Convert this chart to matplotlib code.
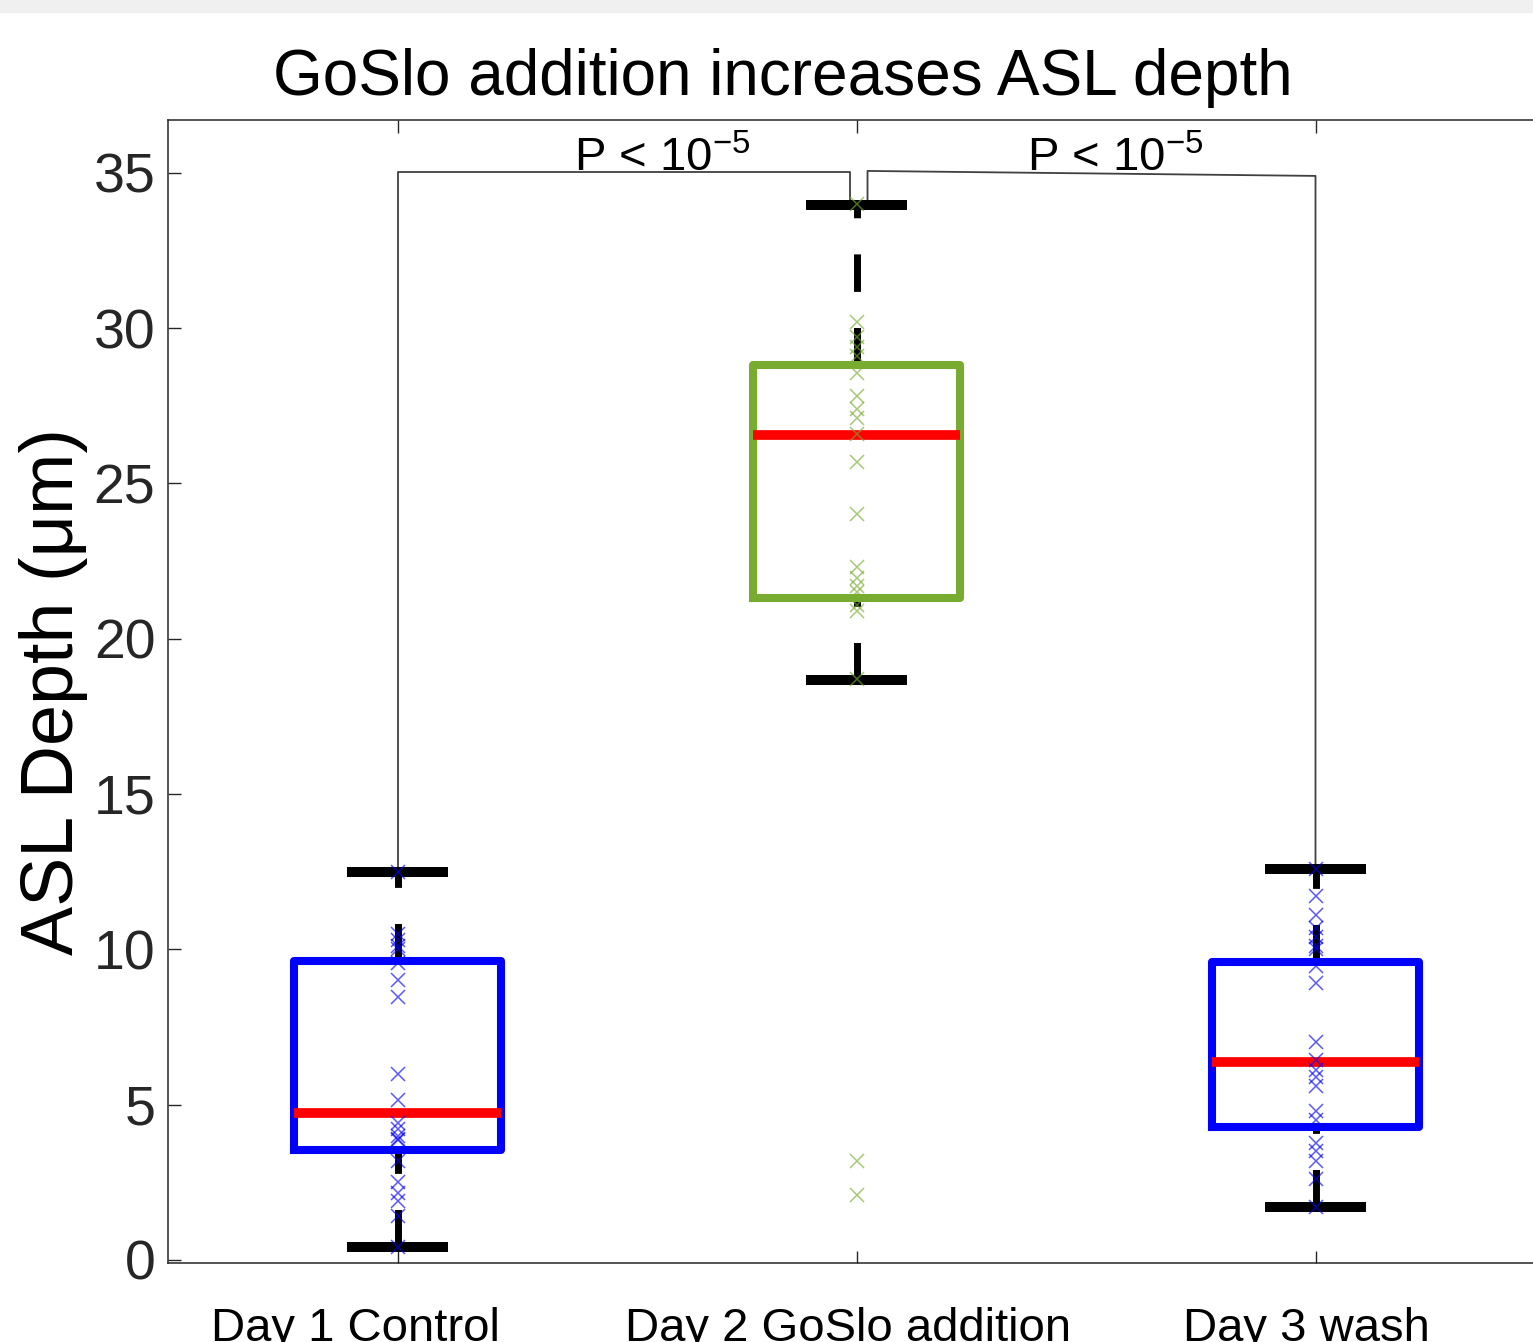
import matplotlib
matplotlib.use("Agg")
import matplotlib.pyplot as plt
from matplotlib.patches import Rectangle
from matplotlib.transforms import ScaledTranslation

# -------- Data --------
groups = ["Day 1 Control", "Day 2 GoSlo addition", "Day 3 wash"]
positions = [1, 2, 3]

q1 = [3.54, 21.3, 4.28]
med = [4.73, 26.56, 6.37]
q3 = [9.63, 28.8, 9.6]
whislo = [0.42, 18.67, 1.71]
whishi = [12.49, 33.97, 12.59]

day1 = [12.5, 10.5, 10.3, 10.1, 10.0, 9.55, 9.0, 8.45, 6.0, 5.15, 4.4,
        4.2, 4.0, 3.9, 3.85, 3.2, 2.5, 2.15, 1.9, 1.4, 0.42]
day2 = [34.0, 30.2, 29.7, 29.4, 29.1, 28.55, 27.8, 27.4, 27.1, 26.6, 25.7,
        24.0, 22.3, 21.95, 21.7, 21.5, 21.1, 20.9, 18.7, 3.2, 2.1]
day3 = [12.6, 11.7, 11.1, 10.7, 10.4, 10.1, 10.0, 9.45, 8.9, 7.0, 6.45,
        6.1, 5.9, 5.6, 4.8, 4.5, 3.75, 3.5, 3.2, 2.6, 1.7]
points = [day1, day2, day3]

box_colors = ["#0000FF", "#77AC30", "#0000FF"]

# significance brackets
br1_x = [1, 1, 1.985, 1.985]
br1_y = [12.5, 35.03, 35.03, 33.97]
br2_x = [2.024, 2.024, 3, 3]
br2_y = [33.97, 35.06, 34.9, 12.6]
p_text = "P < 10$^{\\mathregular{-5}}$"
p_x = [1.577, 2.564]
p_y = [35.03, 35.03]

yticks = [0, 5, 10, 15, 20, 25, 30, 35]
# x tick labels in the original sit a little left of their ticks (pixels)
label_shift_px = [-42, -8, -9]

# -------- Style --------
plt.rcParams["font.family"] = ["Liberation Sans", "DejaVu Sans"]
plt.rcParams["mathtext.fontset"] = "custom"
plt.rcParams["mathtext.rm"] = "Liberation Sans"
plt.rcParams["lines.scale_dashes"] = False
spine_col = "#262626"

fig = plt.figure(figsize=(15.33, 13.42), dpi=100)
fig.patches.append(Rectangle((0, 1 - 12 / 1342), 1, 12 / 1342,
                             transform=fig.transFigure, color="#f0f0f0",
                             zorder=0))

ax = fig.add_axes([168 / 1533, 1 - 1263 / 1342, 1377 / 1533, 1143 / 1342])

for i in range(3):
    st = dict(med=med[i], q1=q1[i], q3=q3[i],
              whislo=whislo[i], whishi=whishi[i], fliers=[])
    bp = ax.bxp([st], positions=[positions[i]], widths=0.45,
                capwidths=0.22, showfliers=False,
                boxprops=dict(color=box_colors[i], linewidth=5.8,
                              solid_joinstyle="round", zorder=3),
                medianprops=dict(color="#FF0000", linewidth=7.0,
                                 solid_capstyle="butt", zorder=3),
                whiskerprops=dict(color="black", linewidth=5.0,
                                  linestyle=(0, (27, 26)), zorder=2),
                capprops=dict(color="black", linewidth=7.2,
                              solid_capstyle="butt", zorder=2))
    # lower whisker dashes start at the cap, like MATLAB
    lw_line = bp["whiskers"][0]
    lw_line.set_xdata(list(lw_line.get_xdata())[::-1])
    lw_line.set_ydata(list(lw_line.get_ydata())[::-1])

for i in range(3):
    ax.plot([positions[i]] * len(points[i]), points[i], "x",
            color=box_colors[i], alpha=0.65, markersize=10.5,
            markeredgewidth=1.1, zorder=4)

ax.plot(br1_x, br1_y, color="#404040", linewidth=1.3, zorder=1)
ax.plot(br2_x, br2_y, color="#404040", linewidth=1.3, zorder=1)
for x, y in zip(p_x, p_y):
    ax.text(x, y, p_text, ha="center", va="baseline", fontsize=34,
            color="black")

ax.set_xlim(0.5, 3.5)
ax.set_ylim(-0.1, 36.7)
ax.set_xticks(positions)
ax.set_xticklabels(groups, fontsize=34)
ax.set_yticks(yticks)
ax.set_yticklabels([str(t) for t in yticks], fontsize=40, color=spine_col)

ax.tick_params(axis="both", direction="in", length=9, width=1.0,
               color=spine_col, top=True, right=True)
ax.tick_params(axis="x", pad=32)
ax.tick_params(axis="y", pad=9)
for s in ax.spines.values():
    s.set_color(spine_col)
    s.set_linewidth(1.1)

for lab, dx in zip(ax.get_xticklabels(), label_shift_px):
    lab.set_transform(lab.get_transform() +
                      ScaledTranslation(dx / 100, 0, fig.dpi_scale_trans))

ax.set_ylabel("ASL Depth (μm)", fontsize=53)
ax.yaxis.set_label_coords(-80 / 1377, 0.5)

fig.text(783 / 1533, 1 - 95 / 1342, "GoSlo addition increases ASL depth",
         ha="center", va="baseline", fontsize=46)

fig.savefig("out.png", dpi=100)
